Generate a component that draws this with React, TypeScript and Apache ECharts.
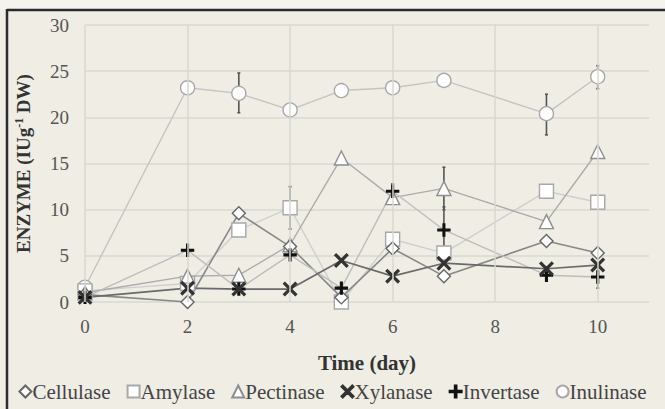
import React, { useEffect, useRef } from "react";
import * as echarts from "echarts";

const days = [0, 2, 3, 4, 5, 6, 7, 9, 10];
const cellulase = [0.8, 0.0, 9.6, 6.0, 0.5, 5.8, 2.8, 6.6, 5.3];
const amylase = [1.2, 2.0, 7.8, 10.2, 0.0, 6.8, 5.3, 12.0, 10.8];
const pectinase = [1.0, 2.8, 2.9, 6.2, 15.6, 11.3, 12.3, 8.7, 16.3];
const xylanase = [0.5, 1.5, 1.4, 1.4, 4.5, 2.8, 4.2, 3.6, 4.0];
const invertase = [0.5, 5.6, 1.4, 5.1, 1.5, 12.0, 7.8, 2.9, 2.7];
const inulinase = [1.6, 23.2, 22.6, 20.8, 22.9, 23.2, 24.0, 20.4, 24.4];

// error bars: [day, low, high]
const errorBars = [
  [3, 20.5, 24.8],
  [4, 20.2, 21.4],
  [9, 18.1, 22.5],
  [10, 23.1, 25.6],
  [4, 7.9, 12.5],
  [7, 10.0, 14.6],
  [7, 5.3, 10.3],
  [10, 1.5, 3.9],
  [6, 11.0, 12.8],
];

const xGridDays = [0, 2, 4, 6, 8, 10];
const yTicks = { min: 0, max: 30, interval: 5 };

const plusPath = "path://M4.3,0H5.7V4.3H10V5.7H5.7V10H4.3V5.7H0V4.3H4.3Z";
const xPath =
  "path://M1,0L5,4L9,0L10,1L6,5L10,9L9,10L5,6L1,10L0,9L4,5L0,1Z";

export default function App() {
  const ref = useRef<HTMLDivElement>(null);
  useEffect(() => {
    document.body.style.margin = "0";
    const chart = echarts.init(ref.current!, null, { renderer: "svg" });
    const font = "Liberation Serif";
    const mk = (
      name: string,
      data: number[],
      symbol: string,
      size: number,
      fill: string,
      border: string,
      lineColor: string,
      lineWidth = 1.4
    ) => ({
      name,
      type: "line",
      data: days.map((d, i) => [d, data[i]]),
      symbol,
      symbolSize: size,
      showAllSymbol: true,
      lineStyle: { color: lineColor, width: lineWidth },
      itemStyle: { color: fill, borderColor: border, borderWidth: 1.4 },
      z: 3,
    });
    chart.setOption({
      animation: false,
      backgroundColor: "#EFEDE4",
      graphic: [
        { type: "rect", shape: { x: 0, y: 0, width: 665, height: 9 }, style: { fill: "#F4F3EE" }, z: -1 },
        { type: "line", shape: { x1: 7, y1: 10, x2: 665, y2: 10 }, style: { stroke: "#2b2b2b", lineWidth: 2.5 } },
        { type: "line", shape: { x1: 7, y1: 9, x2: 7, y2: 409 }, style: { stroke: "#2b2b2b", lineWidth: 2.5 } },
      ],
      grid: { left: 85, right: 16, top: 25, bottom: 107 },
      xAxis: {
        type: "value",
        min: 0,
        max: 11,
        interval: 2,
        name: "Time (day)",
        nameLocation: "middle",
        nameGap: 50,
        nameTextStyle: { fontFamily: font, fontWeight: "bold", fontSize: 21, color: "#333" },
        axisLine: { show: false },
        axisTick: { show: false },
        axisLabel: { fontFamily: font, fontSize: 19, color: "#555", margin: 15, showMaxLabel: false },
        splitLine: { show: false },
      },
      yAxis: {
        type: "value",
        min: yTicks.min,
        max: yTicks.max,
        interval: yTicks.interval,
        name: "ENZYME (IUg{sup|-1} DW)",
        nameLocation: "middle",
        nameGap: 52,
        nameTextStyle: {
          fontFamily: font,
          fontWeight: "bold",
          fontSize: 19,
          color: "#333",
          rich: { sup: { fontFamily: font, fontWeight: "bold", fontSize: 12, color: "#333", verticalAlign: "top", padding: [0, 0, 8, 0] } },
        },
        axisLine: { show: false },
        axisTick: { show: false },
        axisLabel: { fontFamily: font, fontSize: 19, color: "#555", margin: 16 },
        splitLine: { show: true, lineStyle: { color: "#D9D8D2", width: 1.5 } },
      },
      legend: {
        bottom: 2,
        left: "center",
        itemGap: 16,
        itemWidth: 12,
        itemHeight: 12,
        textStyle: { fontFamily: font, fontSize: 21, color: "#444", padding: [0, 0, 0, -4] },
        data: [
          { name: "Cellulase", icon: "diamond" },
          { name: "Amylase", icon: "rect" },
          { name: "Pectinase", icon: "triangle" },
          { name: "Xylanase", icon: xPath },
          { name: "Invertase", icon: plusPath },
          { name: "Inulinase", icon: "circle" },
        ],
      },
      series: [
        {
          name: "grid-x",
          type: "line",
          data: [],
          silent: true,
          markLine: {
            silent: true,
            symbol: "none",
            label: { show: false },
            lineStyle: { color: "#D9D8D2", width: 1.5, type: "solid" },
            data: xGridDays.map((d) => ({ xAxis: d })),
          },
          z: 1,
        },
        mk("Inulinase", inulinase, "circle", 14, "#FFFFFF", "#A8A8A8", "#C4C4C4"),
        mk("Amylase", amylase, "rect", 14, "#FFFFFF", "#A8A8A8", "#CFCFCF"),
        mk("Pectinase", pectinase, "triangle", 14, "#FFFFFF", "#8E8E8E", "#ABABAB"),
        mk("Cellulase", cellulase, "diamond", 13, "#FFFFFF", "#666666", "#888888", 1.6),
        mk("Invertase", invertase, plusPath, 12, "#111111", "#111111", "#BDBDBD"),
        mk("Xylanase", xylanase, xPath, 13, "#333333", "#333333", "#6A6A6A", 1.7),
        {
          name: "err",
          type: "custom",
          z: 2,
          data: errorBars,
          renderItem: (params: any, api: any) => {
            const top = api.coord([api.value(0), api.value(2)]);
            const bot = api.coord([api.value(0), api.value(1)]);
            return {
              type: "group",
              children: [
                { type: "line", shape: { x1: top[0], y1: top[1], x2: bot[0], y2: bot[1] }, style: { stroke: "#555", lineWidth: 1.6 } },
                { type: "line", shape: { x1: top[0] - 1.5, y1: top[1], x2: top[0] + 1.5, y2: top[1] }, style: { stroke: "#555", lineWidth: 1.6 } },
                { type: "line", shape: { x1: bot[0] - 1.5, y1: bot[1], x2: bot[0] + 1.5, y2: bot[1] }, style: { stroke: "#555", lineWidth: 1.6 } },
              ],
            };
          },
        },
      ],
    });
    return () => chart.dispose();
  }, []);
  return <div ref={ref} style={{ width: 665, height: 409 }} />;
}
